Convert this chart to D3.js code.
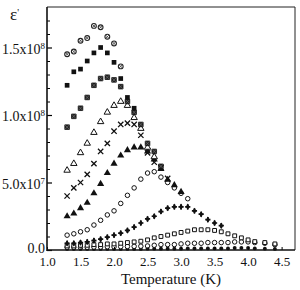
<!DOCTYPE html>
<meta charset="utf-8">
<style>
    body {
        margin: 0;
        background: #fff;
    }

    svg, svg text {
        font-family: "Liberation Serif", "Times New Roman", serif;
    }
</style>
<svg width="300" height="290"></svg>
<script src="https://d3js.org/d3.v7.min.js"></script>
<script>
    // temperatures (K) shared by all curves, values in units of 1e7
    var temps = [1.3, 1.4, 1.5, 1.6, 1.7, 1.8, 1.9, 2.0, 2.1, 2.2, 2.3, 2.4, 2.5, 2.6, 2.7,
        2.8, 2.9, 3.0, 3.1, 3.2, 3.3, 3.4, 3.5, 3.6, 3.7, 3.8, 3.9, 4.0, 4.1, 4.25, 4.4];

    var circDot = [14.5, 14.7, 15.5, 15.7, 16.6, 16.5, 15.8, 15.3, 13.6];
    var squareFill = [12.2, 13.2, 13.4, 14.0, 14.6, 15.0, 14.6, 13.9, 12.7, 11.3, 10.5];
    var squareX = [9.1, 9.9, 10.5, 11.3, 12.2, 12.7, 12.8, 12.6, 12.1, 11.0, 10.2, 9.3, 7.9, 7.3, 6.2];
    var triOpen = [5.9, 6.4, 7.2, 7.9, 8.7, 9.5, 10.2, 10.7, 11.0, 10.7, 9.8, 9.0, 7.6, 6.9];
    var cross = [4.0, 4.6, 5.0, 5.6, 6.4, 7.3, 7.9, 8.8, 9.3, 9.4, 9.3, 8.5, 7.2, 6.5, 6.1, 5.3];
    var triFill = [2.5, 2.7, 3.1, 3.5, 4.2, 4.9, 5.7, 6.4, 7.0, 7.4, 7.6, 7.6, 7.3, 6.7, 6.0, 5.2, 4.8, 4.3];
    var circOpen = [1.1, 1.2, 1.35, 1.5, 1.85, 2.2, 2.6, 2.9, 3.45, 4.05, 4.6, 5.25, 5.7, 5.8, 5.4,
        5.0, 4.6, 4.2, 3.8];
    var plusFill = [0.5, 0.5, 0.55, 0.6, 0.7, 0.8, 0.95, 1.1, 1.25, 1.45, 1.7, 2.0, 2.3, 2.5, 2.85,
        3.1, 3.2, 3.2, 3.2, 2.9, 2.65, 2.25, 2.0, 1.8];
    var squareOpen = [0.3, 0.3, 0.35, 0.35, 0.4, 0.4, 0.45, 0.45, 0.5, 0.55, 0.6, 0.65, 0.75, 0.9, 1.0,
        1.1, 1.2, 1.3, 1.4, 1.5, 1.5, 1.5, 1.45, 1.35, 1.2, 1.05, 0.9, 0.75, 0.62, 0.55, 0.45];
    var circSmall = [0.2, 0.2, 0.2, 0.2, 0.22, 0.22, 0.24, 0.24, 0.25, 0.26, 0.27, 0.28, 0.3, 0.35, 0.4,
        0.4, 0.4, 0.45, 0.5, 0.5, 0.5, 0.55, 0.55, 0.55, 0.55, 0.6, 0.6, 0.6, 0.55, 0.5, 0.4];
    var dotFill = [0.08, 0.08, 0.08, 0.08, 0.08, 0.08, 0.08, 0.08, 0.08, 0.08, 0.08, 0.08, 0.1, 0.1, 0.1,
        0.1, 0.1, 0.1, 0.12, 0.12, 0.12, 0.12, 0.12, 0.12, 0.12, 0.15, 0.15, 0.15, 0.12, 0.1, 0.08];

    var xTicks = [1.0, 1.5, 2.0, 2.5, 3.0, 3.5, 4.0, 4.5];
    var yMajor = [0, 5, 10, 15];
    var yMinor = [1, 2, 3, 4, 6, 7, 8, 9, 11, 12, 13, 14, 16, 17];
    var yMantissa = ["0.0", "5.0x10", "1.0x10", "1.5x10"];
    var yExponent = ["", "7", "8", "8"];

    var svg = d3.select("svg");
    var mLeft = 47, mRight = 295, mTop = 7, mBottom = 250;

    var x = d3.scaleLinear().domain([1.0, 4.7]).range([mLeft, mRight]);
    var y = d3.scaleLinear().domain([0, 18]).range([mBottom, mTop]);

    var series = [
        { values: dotFill, shape: "dot" },
        { values: circSmall, shape: "circSmall" },
        { values: squareOpen, shape: "squareOpen" },
        { values: plusFill, shape: "plus" },
        { values: circOpen, shape: "circOpen" },
        { values: triFill, shape: "triFill" },
        { values: cross, shape: "cross" },
        { values: triOpen, shape: "triOpen" },
        { values: squareX, shape: "squareX" },
        { values: squareFill, shape: "squareFill" },
        { values: circDot, shape: "circDot" }
    ];

    function drawMarker(g, shape) {
        var sym = d3.symbol();
        if (shape == "dot") {
            g.append("path").attr("d", sym.type(d3.symbolCircle).size(12)()).attr("fill", "#111");
        } else if (shape == "circSmall" || shape == "circOpen") {
            g.append("path").attr("d", sym.type(d3.symbolCircle).size(16)())
                .attr("fill", "#fff").attr("stroke", "#111").attr("stroke-width", 1);
        } else if (shape == "circDot") {
            g.append("path").attr("d", sym.type(d3.symbolCircle).size(18)())
                .attr("fill", "#fff").attr("stroke", "#222").attr("stroke-width", 1.1);
            g.append("path").attr("d", sym.type(d3.symbolTimes).size(8)())
                .attr("fill", "none").attr("stroke", "#444").attr("stroke-width", 0.9);
        } else if (shape == "squareOpen") {
            g.append("path").attr("d", sym.type(d3.symbolSquare).size(15)())
                .attr("fill", "#fff").attr("stroke", "#111").attr("stroke-width", 1);
        } else if (shape == "squareFill") {
            g.append("path").attr("d", sym.type(d3.symbolSquare).size(22)()).attr("fill", "#111");
        } else if (shape == "squareX") {
            g.append("path").attr("d", sym.type(d3.symbolSquare).size(21)())
                .attr("fill", "#222").attr("stroke", "#111").attr("stroke-width", 0.8);
            g.append("path").attr("d", sym.type(d3.symbolTimes).size(14)())
                .attr("fill", "none").attr("stroke", "#777").attr("stroke-width", 0.6);
        } else if (shape == "triOpen") {
            g.append("path").attr("d", sym.type(d3.symbolTriangle).size(18)())
                .attr("fill", "#fff").attr("stroke", "#111").attr("stroke-width", 1);
        } else if (shape == "triFill") {
            g.append("path").attr("d", sym.type(d3.symbolTriangle).size(22)()).attr("fill", "#111");
        } else if (shape == "cross") {
            g.append("path").attr("d", sym.type(d3.symbolTimes).size(20)())
                .attr("fill", "none").attr("stroke", "#111").attr("stroke-width", 1.3);
        } else if (shape == "plus") {
            g.append("path").attr("d", sym.type(d3.symbolCross).size(15)()).attr("fill", "#111");
            g.append("path").attr("d", sym.type(d3.symbolDiamond).size(12)()).attr("fill", "#111");
        }
    }

    // points
    series.forEach(function (s) {
        var pts = s.values.map(function (v, i) {
            return { t: temps[i], v: v };
        });
        svg.append("g").selectAll("g")
            .data(pts)
            .enter().append("g")
            .attr("transform", function (d) {
                return "translate(" + x(d.t) + "," + y(d.v) + ")";
            })
            .each(function () {
                drawMarker(d3.select(this), s.shape);
            });
    });

    // frame
    svg.append("line").attr("x1", mLeft).attr("x2", mRight).attr("y1", mTop).attr("y2", mTop)
        .attr("stroke", "#222").attr("stroke-width", 1);
    svg.append("line").attr("x1", mRight).attr("x2", mRight).attr("y1", mTop).attr("y2", mBottom)
        .attr("stroke", "#222").attr("stroke-width", 1);

    // y axis
    var yMinorAxis = d3.axisLeft(y).tickValues(yMinor).tickSize(-3).tickFormat("");
    var gMinor = svg.append("g").attr("transform", "translate(" + mLeft + ",0)").call(yMinorAxis);
    gMinor.select(".domain").remove();

    var yAxis = d3.axisLeft(y).tickValues(yMajor).tickSize(-5).tickFormat("");
    var gy = svg.append("g").attr("transform", "translate(" + mLeft + ",0)").call(yAxis);
    gy.select(".domain").remove();
    gy.selectAll(".tick text").remove();
    gy.selectAll(".tick line").attr("stroke-width", 1.2);
    gy.selectAll(".tick").each(function (d, i) {
        var t = d3.select(this).append("text")
            .attr("x", -2)
            .attr("dy", d == 0 ? "0.15em" : "0.42em")
            .attr("fill", "#111")
            .attr("text-anchor", "end")
            .attr("font-family", "Liberation Serif")
            .style("font-size", "14px");
        t.append("tspan").text(yMantissa[i]);
        if (yExponent[i]) {
            t.append("tspan").attr("dy", "-0.55em").style("font-size", "9px").text(yExponent[i]);
        }
    });

    // x axis
    var xAxis = d3.axisBottom(x).tickValues(xTicks).tickSize(-3).tickPadding(4)
        .tickFormat(d3.format(".1f"));
    var gx = svg.append("g").attr("transform", "translate(0," + mBottom + ")").call(xAxis);
    gx.attr("font-family", "Liberation Serif");
    gx.select(".domain").remove();
    gx.selectAll("text").style("font-size", "13px").attr("fill", "#111").attr("dy", "0.95em");

    svg.append("line").attr("x1", mLeft).attr("x2", mLeft).attr("y1", mTop).attr("y2", mBottom + 1)
        .attr("stroke", "#111").attr("stroke-width", 1.6);
    svg.append("line").attr("x1", mLeft).attr("x2", mRight).attr("y1", mBottom).attr("y2", mBottom)
        .attr("stroke", "#111").attr("stroke-width", 1.6);

    // labels
    svg.append("text")
        .attr("x", 171)
        .attr("y", 284)
        .attr("text-anchor", "middle")
        .style("font-size", "15px")
        .attr("fill", "#111")
        .text("Temperature (K)");

    var title = svg.append("text")
        .attr("x", 10)
        .attr("y", 20)
        .style("font-size", "17px")
        .attr("fill", "#111")
        .text("ε");
    title.append("tspan").attr("dy", "-0.45em").style("font-size", "10px").text("'");
</script>
